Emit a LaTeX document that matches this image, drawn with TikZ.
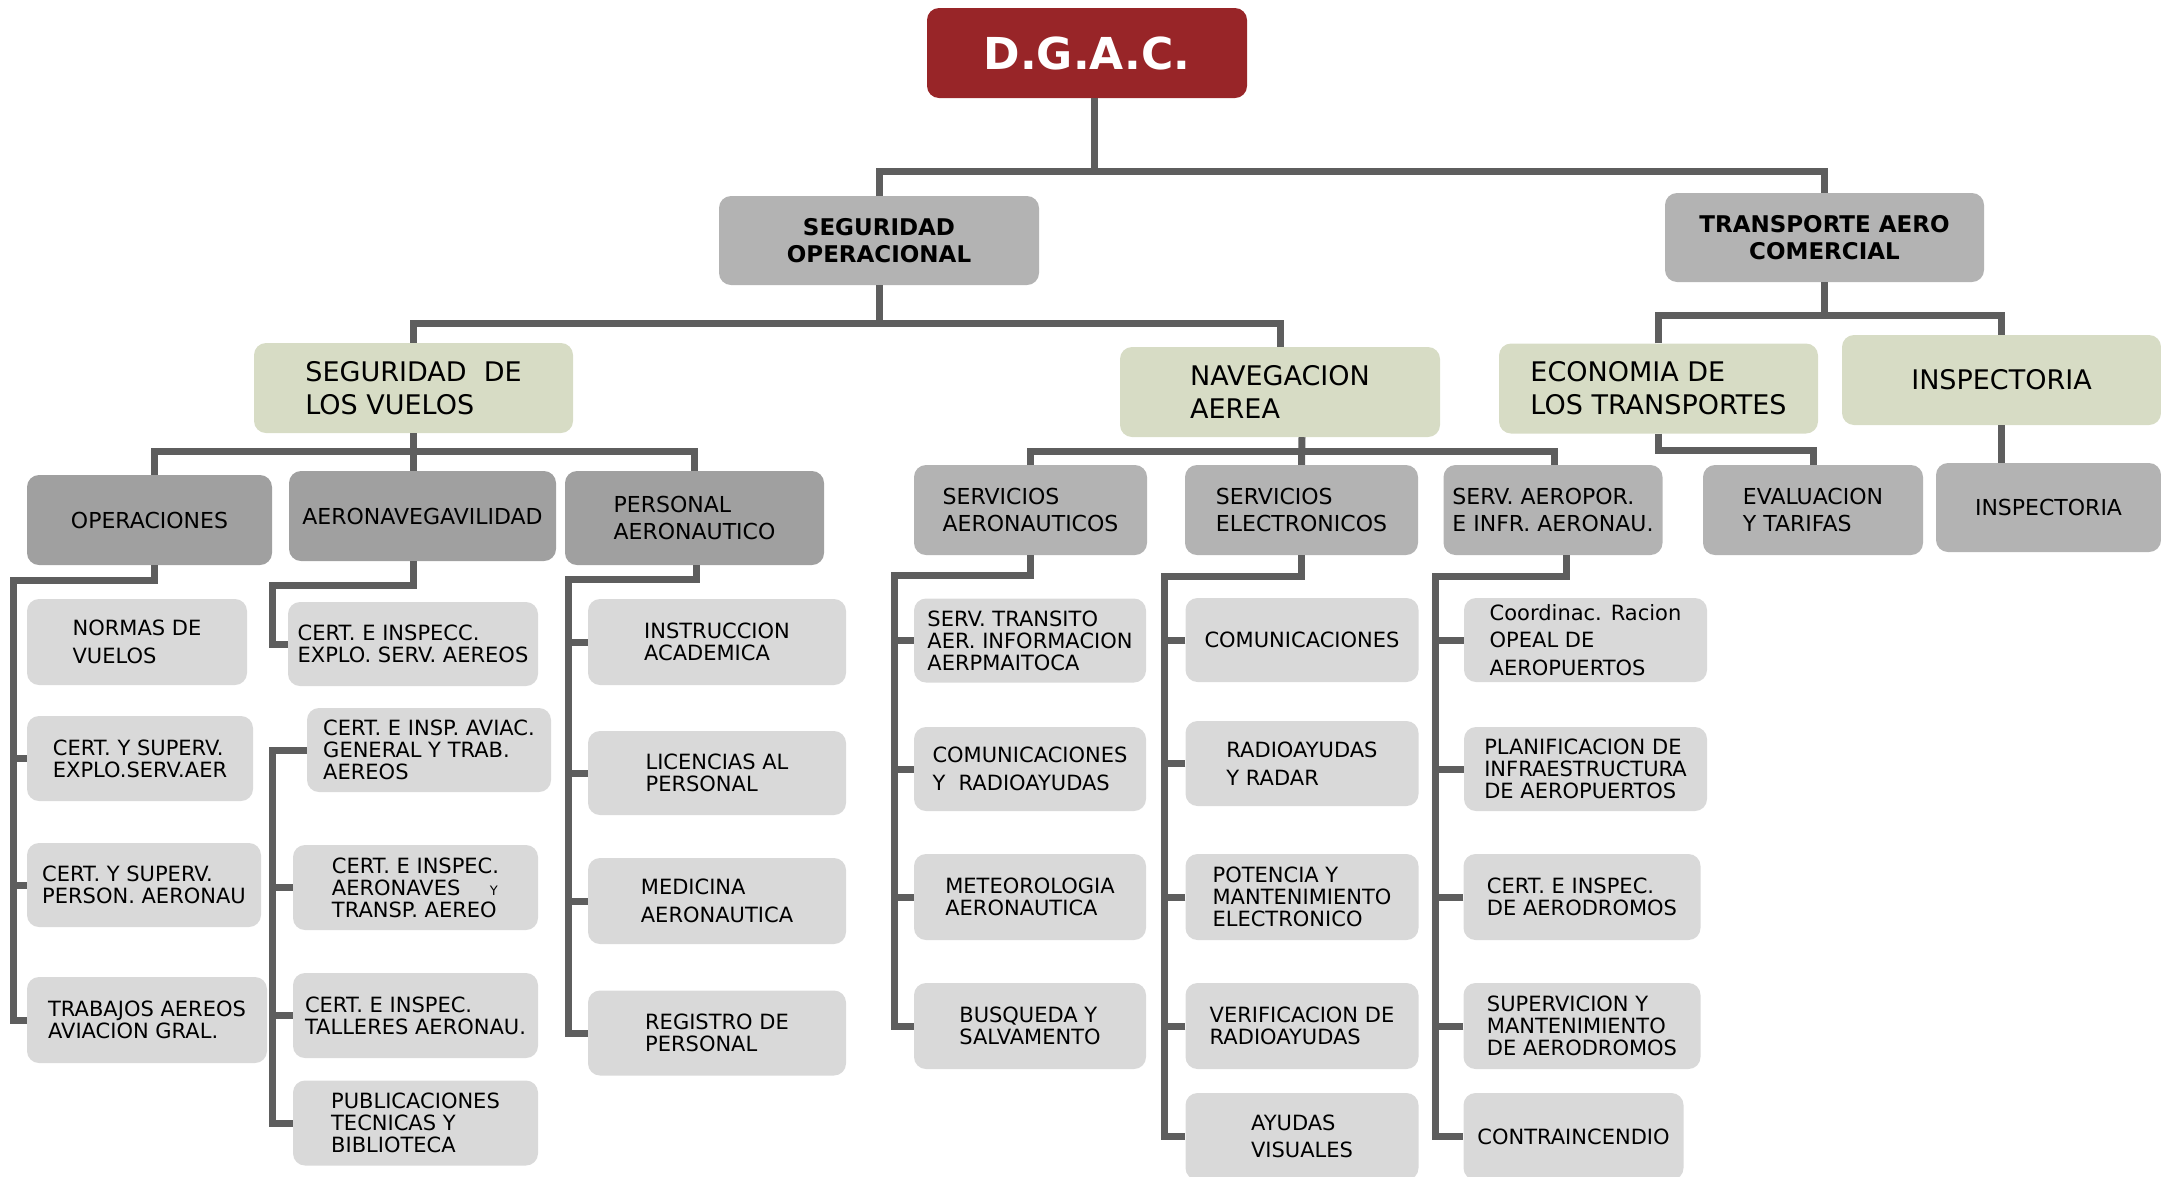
\documentclass[tikz,border=0pt]{standalone}
\usepackage{fontspec}
\setmainfont{DejaVu Sans}
\definecolor{color_dgac}{RGB}{152, 37, 40}
\definecolor{color_head}{RGB}{179, 179, 179}
\definecolor{color_area}{RGB}{215, 220, 197}
\definecolor{color_dept}{RGB}{160, 160, 160}
\definecolor{color_unit}{RGB}{179, 179, 179}
\definecolor{color_leaf}{RGB}{217, 217, 217}
\definecolor{color_line}{RGB}{94, 94, 94}

\begin{document}
\begin{tikzpicture}[
    x=1pt,y=-1pt,
    every node/.style={align=left,inner sep=2pt},
    dgacbox/.style={fill=color_dgac,rounded corners=12pt,text=white,
        font=\fontsize{44}{50}\selectfont\bfseries,minimum width=320pt,minimum height=90pt},
    headbox/.style={fill=color_head,rounded corners=12pt,align=center,
        font=\fontsize{23}{27.5}\selectfont\bfseries,minimum width=320pt,minimum height=89pt},
    areabox/.style={fill=color_area,rounded corners=12pt,
        font=\fontsize{27}{33}\selectfont,minimum width=319pt,minimum height=90pt},
    deptbox/.style={fill=color_dept,rounded corners=12pt,
        font=\fontsize{22}{27.5}\selectfont,minimum height=90pt},
    unitbox/.style={deptbox,fill=color_unit},
    leafbox/.style={fill=color_leaf,rounded corners=12pt,
        font=\fontsize{21}{22}\selectfont,minimum height=85pt},
    wideleading/.style={font=\fontsize{21}{27.5}\selectfont},
    conn/.style={draw=color_line,line width=7pt}
]
    % page is 2161 x 1176, y grows downwards
    \useasboundingbox (0,0) rectangle (2161,1176);
    \clip (0,0) rectangle (2161,1176);

    % depth 0 and 1
    \node[dgacbox] (dgac) at (1087,53) {D.G.A.C.};
    \node[headbox] (so) at (879,240.5) {SEGURIDAD\\OPERACIONAL};
    \node[headbox,minimum width=319pt] (tac) at (1824.5,237.5) {TRANSPORTE AERO\\COMERCIAL};

    % depth 2
    \node[areabox] (sv) at (413.5,388) {SEGURIDAD\ \ DE\\LOS VUELOS};
    \node[areabox,minimum width=320pt] (na) at (1280,392) {NAVEGACION\\AEREA};
    \node[areabox] (eco) at (1658.5,388.5) {ECONOMIA DE\\LOS TRANSPORTES};
    \node[areabox] (insp) at (2001.5,380) {INSPECTORIA};

    % depth 3
    \node[deptbox,minimum width=245pt] (oper) at (149.5,520) {OPERACIONES};
    \node[deptbox,minimum width=267pt] (aero) at (422.5,516) {AERONAVEGAVILIDAD};
    \node[deptbox,minimum width=259pt,minimum height=94pt] (pers) at (694.5,518) {PERSONAL\\AERONAUTICO};
    \node[unitbox,minimum width=233pt] (sa) at (1030.5,510) {SERVICIOS\\AERONAUTICOS};
    \node[unitbox,minimum width=233pt] (se) at (1301.5,510) {SERVICIOS\\ELECTRONICOS};
    \node[unitbox,minimum width=219pt] (sai) at (1553,510) {SERV. AEROPOR.\\E INFR. AERONAU.};
    \node[unitbox,minimum width=220pt] (evt) at (1813,510) {EVALUACION\\Y TARIFAS};
    \node[unitbox,minimum width=225pt,minimum height=89pt] (insp2) at (2048.5,507.5) {INSPECTORIA};

    % depth 4: operaciones
    \node[leafbox,wideleading,minimum width=220pt,minimum height=86pt] (op1) at (137,642) {NORMAS DE\\VUELOS};
    \node[leafbox,minimum width=226pt] (op2) at (140,758.5) {CERT. Y SUPERV.\\EXPLO.SERV.AER};
    \node[leafbox,minimum width=234pt,minimum height=84pt] (op3) at (144,885) {CERT. Y SUPERV.\\PERSON. AERONAU};
    \node[leafbox,minimum width=240pt,minimum height=86pt] (op4) at (147,1020) {TRABAJOS AEREOS\\AVIACION GRAL.};

    % depth 4: aeronavegavilidad
    \node[leafbox,minimum width=250pt,minimum height=84pt] (ae1) at (413,644) {CERT. E INSPECC.\\EXPLO. SERV. AEREOS};
    \node[leafbox,minimum width=244pt,minimum height=84pt] (ae2) at (429,750) {CERT. E INSP. AVIAC.\\GENERAL Y TRAB.\\AEREOS};
    \node[leafbox,minimum width=245pt] (ae3) at (415.5,887.5) {CERT. E INSPEC.\\AERONAVES\hspace{1.4em}{\fontsize{13}{13}\selectfont Y}\\TRANSP. AEREO};
    \node[leafbox,minimum width=245pt] (ae4) at (415.5,1015.5) {CERT. E INSPEC.\\TALLERES AERONAU.};
    \node[leafbox,minimum width=245pt] (ae5) at (415.5,1123) {PUBLICACIONES\\TECNICAS Y\\BIBLIOTECA};

    % depth 4: personal aeronautico
    \node[leafbox,minimum width=258pt,minimum height=86pt] (pe1) at (717,642) {INSTRUCCION\\ACADEMICA};
    \node[leafbox,minimum width=258pt,minimum height=84pt] (pe2) at (717,773) {LICENCIAS AL\\PERSONAL};
    \node[leafbox,wideleading,minimum width=258pt,minimum height=86pt] (pe3) at (717,901) {MEDICINA\\AERONAUTICA};
    \node[leafbox,minimum width=258pt] (pe4) at (717,1033) {REGISTRO DE\\PERSONAL};

    % depth 4: servicios aeronauticos
    \node[leafbox,minimum width=232pt,minimum height=84pt] (sa1) at (1030,640.5) {SERV. TRANSITO\\AER. INFORMACION\\AERPMAITOCA};
    \node[leafbox,wideleading,minimum width=232pt,minimum height=84pt] (sa2) at (1030,769) {COMUNICACIONES\\Y\ \ RADIOAYUDAS};
    \node[leafbox,minimum width=232pt,minimum height=86pt] (sa3) at (1030,897) {METEOROLOGIA\\AERONAUTICA};
    \node[leafbox,minimum width=232pt,minimum height=86pt] (sa4) at (1030,1026) {BUSQUEDA Y\\SALVAMENTO};

    % depth 4: servicios electronicos
    \node[leafbox,minimum width=233pt,minimum height=84pt] (se1) at (1302,640) {COMUNICACIONES};
    \node[leafbox,wideleading,minimum width=233pt] (se2) at (1302,763.5) {RADIOAYUDAS\\Y RADAR};
    \node[leafbox,minimum width=233pt,minimum height=86pt] (se3) at (1302,897) {POTENCIA Y\\MANTENIMIENTO\\ELECTRONICO};
    \node[leafbox,minimum width=233pt,minimum height=86pt] (se4) at (1302,1026) {VERIFICACION DE\\RADIOAYUDAS};
    \node[leafbox,wideleading,minimum width=233pt,minimum height=87pt] (se5) at (1302,1136.5) {AYUDAS\\VISUALES};

    % depth 4: serv. aeroportuarios
    \node[leafbox,wideleading,minimum width=243pt,minimum height=84pt] (ai1) at (1585.5,640) {Coordinac. Racion\\OPEAL DE\\AEROPUERTOS};
    \node[leafbox,minimum width=243pt,minimum height=84pt] (ai2) at (1585.5,769) {PLANIFICACION DE\\INFRAESTRUCTURA\\DE AEROPUERTOS};
    \node[leafbox,minimum width=237pt,minimum height=86pt] (ai3) at (1582,897) {CERT. E INSPEC.\\DE AERODROMOS};
    \node[leafbox,minimum width=237pt,minimum height=86pt] (ai4) at (1582,1026) {SUPERVICION Y\\MANTENIMIENTO\\DE AERODROMOS};
    \node[leafbox,minimum width=220pt,minimum height=87pt] (ai5) at (1573.5,1136.5) {CONTRAINCENDIO};

    % connectors, top down
    \coordinate (b0) at (1094,171);
    \draw[conn] ([xshift=7pt]dgac.south) -- (b0);
    \draw[conn] (so.north) |- (b0) -| (tac.north);

    \draw[conn] (so.south) -- ++(0,38) coordinate (b1);
    \draw[conn] (sv.north) |- (b1) -| (na.north);

    \draw[conn] (tac.south) -- ++(0,33) coordinate (b2);
    \draw[conn] (eco.north) |- (b2) -| (insp.north);

    \draw[conn] (sv.south) -- ++(0,18.5) coordinate (b3);
    \draw[conn] ([xshift=4.5pt]oper.north) |- (b3) -| (pers.north);
    \draw[conn] (b3) -- (b3 |- aero.north);

    \coordinate (b4) at (1302,451.5);
    \draw[conn] (na.south -| b4) -- (se.north);
    \draw[conn] (sa.north) |- (b4) -| ([xshift=1pt]sai.north);

    \draw[conn] (eco.south) -- ++(0,17) -| (evt.north);
    \draw[conn] (insp.south) -- (insp.south |- insp2.north);

    % leaf buses
    \coordinate (opbus) at (13.5,580);
    \coordinate (aebus) at (272.5,585);
    \coordinate (pebus) at (568.5,579);
    \coordinate (sabus) at (894.5,575.5);
    \coordinate (sebus) at (1164.5,576);
    \coordinate (aibus) at (1435,576);

    \draw[conn] ([xshift=4.5pt]oper.south) |- (opbus) |- (op4.west);
    \draw[conn] (b3 |- aero.south) |- (aebus) |- (ae1.west);
    \draw[conn] (ae2.west) -- (ae2.west -| aebus) |- (ae5.west);
    \draw[conn] ([xshift=2pt]pers.south) |- (pebus) |- (pe4.west);
    \draw[conn] (sa.south) |- (sabus) |- (sa4.west);
    \draw[conn] (se.south) |- (sebus) |- (se5.west);
    \draw[conn] ([xshift=13pt]sai.south) |- (aibus) |- (ai5.west);

    \foreach \n/\b in {op2/opbus, op3/opbus, ae3/aebus, ae4/aebus,
                       pe1/pebus, pe2/pebus, pe3/pebus,
                       sa1/sabus, sa2/sabus, sa3/sabus,
                       se1/sebus, se2/sebus, se3/sebus, se4/sebus,
                       ai1/aibus, ai2/aibus, ai3/aibus, ai4/aibus}{
        \draw[conn] (\n.west) -- (\n.west -| \b);
    }

\end{tikzpicture}
\end{document}
